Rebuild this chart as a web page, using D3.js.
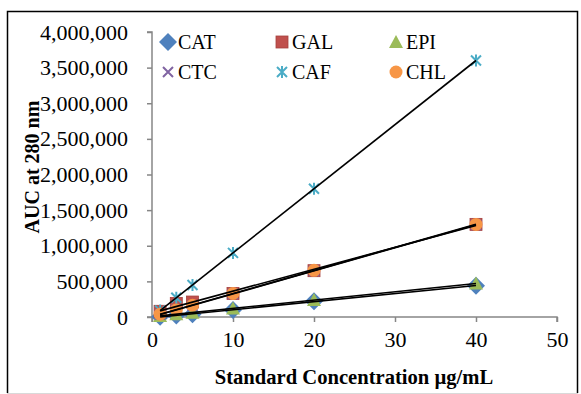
<!DOCTYPE html>
<html>
<head>
<meta charset="utf-8">
<script src="https://cdn.jsdelivr.net/npm/d3@7"></script>
<style>
  body { margin: 0; background: #fff; }
  svg text { font-family: "Times New Roman", "Liberation Serif", Times, serif; fill: #000; }
</style>
</head>
<body>
<div id="chart"></div>
<script>
// concentrations (ug/mL)
var conc = [1, 3, 5, 10, 20, 40];

// AUC values
var cat = [5000, 20000, 40000, 100000, 220000, 440000];
var gal = [80000, 190000, 210000, 330000, 650000, 1300000];
var epi = [15000, 40000, 60000, 120000, 240000, 470000];
var ctc = [35000, 100000, 160000, 325000, 650000, 1295000];
var caf = [90000, 270000, 450000, 900000, 1800000, 3600000];
var chl = [40000, 100000, 165000, 330000, 655000, 1300000];

var names = ["CAT", "GAL", "EPI", "CTC", "CAF", "CHL"];
var yTicks = [0, 500000, 1000000, 1500000, 2000000, 2500000, 3000000, 3500000, 4000000];
var xTicks = [0, 10, 20, 30, 40, 50];

var width = 581, height = 394;
var padL = 152, padR = 557, padT = 32, padB = 317;

var series = [
  {name: names[0], vals: cat, color: "#4F81BD", shape: "diamond"},
  {name: names[1], vals: gal, color: "#C0504D", shape: "square"},
  {name: names[2], vals: epi, color: "#9BBB59", shape: "triangle"},
  {name: names[3], vals: ctc, color: "#8064A2", shape: "x"},
  {name: names[4], vals: caf, color: "#4BACC6", shape: "star"},
  {name: names[5], vals: chl, color: "#F79646", shape: "circle"}
];

var x = d3.scaleLinear().domain([0, 50]).range([padL, padR]);
var y = d3.scaleLinear().domain([0, 4000000]).range([padB, padT]);

var svg = d3.select("#chart").append("svg")
  .attr("width", width)
  .attr("height", height);

// outer border
svg.append("path").attr("d", "M7.5,393 V11.5 H577.5 V393")
  .attr("fill", "none").attr("stroke", "#000").attr("stroke-width", 1.5);
svg.append("line").attr("x1", 7).attr("x2", 578).attr("y1", 393.5).attr("y2", 393.5)
  .attr("stroke", "#d9d9d9");

// axes
var yAxis = d3.axisLeft(y).tickValues(yTicks).tickSize(5).tickPadding(19)
  .tickFormat(d3.format(","));
var xAxis = d3.axisBottom(x).tickValues(xTicks).tickSize(5).tickPadding(9);

var gy = svg.append("g").attr("transform", "translate(" + padL + ",0)").call(yAxis);
var gx = svg.append("g").attr("transform", "translate(0," + padB + ")").call(xAxis);
[gx, gy].forEach(function(g) {
  g.attr("font-family", null).attr("font-size", null);
  g.select(".domain").attr("stroke", "#868686").attr("stroke-width", 1.5);
  g.selectAll(".tick line").attr("stroke", "#868686").attr("stroke-width", 1.5);
  g.selectAll(".tick text").style("font-size", "22px").attr("fill", "#000");
});
gy.select(".domain").attr("d", "M-5," + padT + "H0V" + padB + "H-5");
gx.select(".domain").attr("d", "M" + padL + ",5V0H" + padR + "V5");

// axis titles
svg.append("text")
  .attr("x", 354).attr("y", 384)
  .attr("text-anchor", "middle")
  .style("font-size", "20.6px").style("font-weight", "bold")
  .text("Standard Concentration µg/mL");

svg.append("text")
  .attr("transform", "translate(39,167) rotate(-90)")
  .attr("text-anchor", "middle")
  .style("font-size", "20px").style("font-weight", "bold")
  .text("AUC at 280 nm");

// marker drawing
function marker(g, shape, color) {
  if (shape == "diamond") {
    g.append("path").attr("d", "M0,-9L9,0L0,9L-9,0Z").attr("fill", color);
  } else if (shape == "square") {
    g.append("rect").attr("x", -6).attr("y", -6).attr("width", 12).attr("height", 12)
      .attr("fill", color).attr("stroke", "#A5403D").attr("stroke-width", 0.8);
  } else if (shape == "triangle") {
    g.append("path").attr("d", "M0,-7L7,6L-7,6Z").attr("fill", color);
  } else if (shape == "x") {
    g.append("path").attr("d", "M-5,-5L5,5M-5,5L5,-5").attr("stroke", color).attr("stroke-width", 2);
  } else if (shape == "star") {
    g.append("path").attr("d", "M-5,-5L5,5M-5,5L5,-5M0,-6V6").attr("stroke", color).attr("stroke-width", 2);
  } else if (shape == "circle") {
    g.append("circle").attr("r", 6.5).attr("fill", color);
  }
}

// points
series.forEach(function(s) {
  var pts = svg.append("g").selectAll("g")
    .data(conc.map(function(c, i) { return {x: c, y: s.vals[i]}; }))
    .enter().append("g")
    .attr("transform", function(d) { return "translate(" + x(d.x) + "," + y(d.y) + ")"; });
  pts.each(function() { marker(d3.select(this), s.shape, s.color); });
});

// linear trendlines (least squares)
var fit = function(xs, ys) {
  var n = xs.length, mx = d3.mean(xs), my = d3.mean(ys);
  var sxy = 0, sxx = 0;
  for (var i = 0; i < n; i++) {
    sxy += (xs[i] - mx) * (ys[i] - my);
    sxx += (xs[i] - mx) * (xs[i] - mx);
  }
  var b = sxy / sxx;
  return {b: b, a: my - b * mx};
};
series.forEach(function(s) {
  var f = fit(conc, s.vals);
  var x0 = d3.min(conc), x1 = d3.max(conc);
  svg.append("line")
    .attr("x1", x(x0)).attr("y1", y(f.a + f.b * x0))
    .attr("x2", x(x1)).attr("y2", y(f.a + f.b * x1))
    .attr("stroke", "#000").attr("stroke-width", 1.6);
});

// legend
var legend = svg.append("g");
series.forEach(function(s, i) {
  var col = i % 3, row = Math.floor(i / 3);
  var lx = 168 + col * 114, ly = 42 + row * 30;
  var g = legend.append("g").attr("transform", "translate(" + lx + "," + ly + ")");
  marker(g, s.shape, s.color);
  g.append("text").attr("x", 10).attr("y", 7).style("font-size", "20px").text(s.name);
});
</script>
</body>
</html>
